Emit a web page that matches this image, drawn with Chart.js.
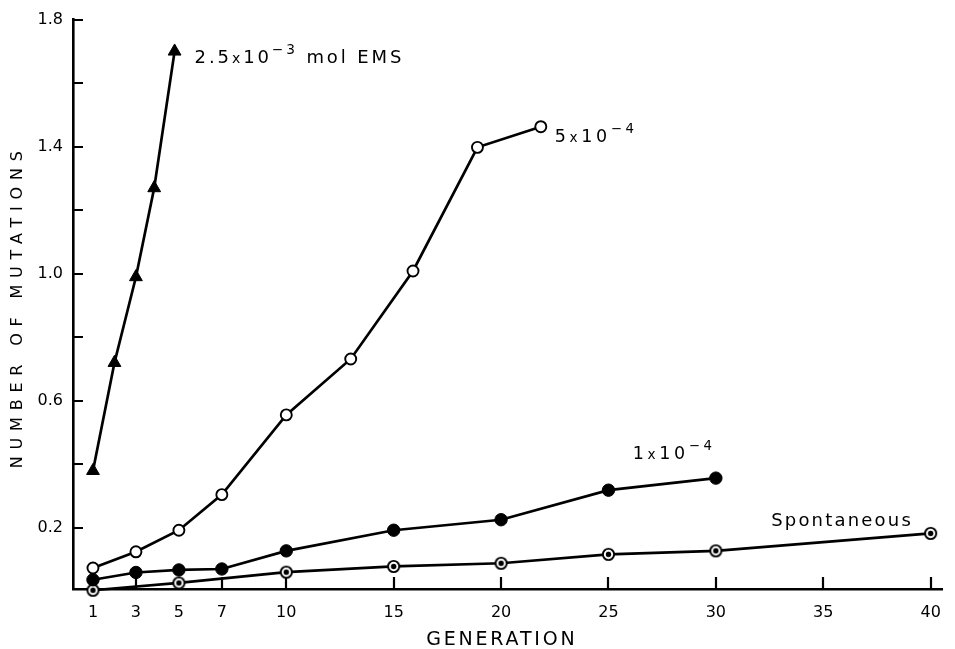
<!DOCTYPE html>
<html>
<head>
<meta charset="utf-8">
<script src="https://cdn.jsdelivr.net/npm/chart.js@4.4.1/dist/chart.umd.min.js"></script>
<style>
  html, body { margin: 0; padding: 0; background: #ffffff; }
  #wrap { width: 955px; height: 649px; position: relative; }
</style>
</head>
<body>
<div id="wrap"><canvas id="c" width="955" height="649"></canvas></div>
<script>
// ---------- data ----------
const genEMS25e3 = [1, 2, 3, 3.85, 4.8];
const mutEMS25e3 = [0.38, 0.72, 0.99, 1.27, 1.70];

const genEMS5e4 = [1, 3, 5, 7, 10, 13, 15.9, 18.9, 21.85];
const mutEMS5e4 = [0.074, 0.125, 0.193, 0.305, 0.556, 0.732, 1.009, 1.398, 1.463];

const genEMS1e4 = [1, 3, 5, 7, 10, 15, 20, 25, 30];
const mutEMS1e4 = [0.037, 0.060, 0.068, 0.071, 0.128, 0.193, 0.226, 0.319, 0.357];

const genSpont = [1, 5, 10, 15, 20, 25, 30, 40];
const mutSpont = [0.004, 0.027, 0.061, 0.079, 0.089, 0.117, 0.128, 0.183];

const xTicks = [1, 3, 5, 7, 10, 15, 20, 25, 30, 35, 40];
const xTickLabels = ['1', '3', '5', '7', '10', '15', '20', '25', '30', '35', '40'];
const yTicks = [0.2, 0.4, 0.6, 0.8, 1.0, 1.2, 1.4, 1.6, 1.8];
const yTickLabels = ['0.2', '', '0.6', '', '1.0', '', '1.4', '', '1.8'];

const xTitle = 'GENERATION';
const yTitle = 'NUMBER OF MUTATIONS';

// series labels (text pieces; "sup" = superscript)
const labelEMS25e3 = [{ t: '2.5' }, { t: 'x', small: true }, { t: '10' }, { t: '\u22123', sup: true }, { t: ' mol EMS' }];
const labelEMS5e4 = [{ t: '5' }, { t: 'x', small: true }, { t: '10' }, { t: '\u22124', sup: true }];
const labelEMS1e4 = [{ t: '1' }, { t: 'x', small: true }, { t: '10' }, { t: '\u22124', sup: true }];
const labelSpont = [{ t: 'Spontaneous' }];

// ---------- helpers ----------
const FONT = '"DejaVu Sans", "Liberation Sans", sans-serif';
const pts = (xs, ys) => xs.map((x, i) => ({ x: x, y: ys[i] }));

// dotted-circle marker for the spontaneous series
function makeDotCircle() {
  const c = document.createElement('canvas');
  c.width = 15; c.height = 15;
  const g = c.getContext('2d');
  g.beginPath(); g.arc(7.5, 7.5, 5.6, 0, Math.PI * 2);
  g.fillStyle = '#fff'; g.fill();
  g.lineWidth = 1.9; g.strokeStyle = '#000'; g.stroke();
  g.beginPath(); g.arc(7.5, 7.5, 2.7, 0, Math.PI * 2);
  g.fillStyle = '#000'; g.fill();
  return c;
}

function setSpacing(ctx, px) {
  if ('letterSpacing' in ctx) ctx.letterSpacing = px + 'px';
}

function drawParts(ctx, parts, x, y, size, spacing) {
  let cx = x;
  parts.forEach(p => {
    let s = size, dy = 0;
    if (p.sup) { s = size * 0.76; dy = -size * 0.5; }
    else if (p.small) { s = size * 0.78; }
    ctx.font = s + 'px ' + FONT;
    setSpacing(ctx, spacing);
    ctx.fillText(p.t, cx, y + dy);
    cx += ctx.measureText(p.t).width;
  });
}

// inward tick marks, drawn from the tick arrays through the scales
const inwardTicks = {
  id: 'inwardTicks',
  beforeDatasetsDraw(chart) {
    const { ctx, chartArea: a, scales: { x, y } } = chart;
    ctx.save();
    ctx.strokeStyle = '#000';
    ctx.lineWidth = 2.2;
    ctx.beginPath();
    xTicks.forEach(v => {
      const px = Math.round(x.getPixelForValue(v));
      ctx.moveTo(px, a.bottom);
      ctx.lineTo(px, a.bottom - 12);
    });
    yTicks.forEach(v => {
      const py = Math.round(y.getPixelForValue(v));
      ctx.moveTo(a.left, py);
      ctx.lineTo(a.left + 10, py);
    });
    ctx.stroke();
    ctx.restore();
  }
};

// axis titles and series labels
const textLayer = {
  id: 'textLayer',
  afterDraw(chart) {
    const { ctx, chartArea: a, scales: { x, y } } = chart;
    ctx.save();
    ctx.fillStyle = '#000';
    ctx.textBaseline = 'alphabetic';

    // x title
    ctx.font = '19px ' + FONT;
    setSpacing(ctx, 2.8);
    ctx.textAlign = 'center';
    ctx.fillText(xTitle, (a.left + a.right) / 2 - 6, 645);

    // y title
    ctx.save();
    ctx.translate(21.5, (a.top + a.bottom) / 2 + 2);
    ctx.rotate(-Math.PI / 2);
    ctx.font = '16px ' + FONT;
    setSpacing(ctx, 6.8);
    ctx.textAlign = 'center';
    ctx.fillText(yTitle, 0, 0);
    ctx.restore();

    // series labels anchored at each series' last point
    ctx.textAlign = 'left';
    const last = (xs, ys) => ({ px: x.getPixelForValue(xs[xs.length - 1]), py: y.getPixelForValue(ys[ys.length - 1]) });
    let p = last(genEMS25e3, mutEMS25e3);
    drawParts(ctx, labelEMS25e3, p.px + 20, p.py + 12, 18, 2.9);
    p = last(genEMS5e4, mutEMS5e4);
    drawParts(ctx, labelEMS5e4, p.px + 14, p.py + 15, 17.5, 3.6);
    p = last(genEMS1e4, mutEMS1e4);
    drawParts(ctx, labelEMS1e4, p.px - 83, p.py - 19, 17.5, 3.6);
    p = last(genSpont, mutSpont);
    drawParts(ctx, labelSpont, p.px - 159.5, p.py - 7, 18, 2.2);

    ctx.restore();
  }
};

const lineBase = {
  borderColor: '#000',
  borderWidth: 2.7,
  tension: 0,
  fill: false,
  clip: false,
  pointBorderColor: '#000'
};

new Chart(document.getElementById('c'), {
  type: 'line',
  data: {
    datasets: [
      Object.assign({}, lineBase, {
        label: '2.5x10^-3 mol EMS',
        data: pts(genEMS25e3, mutEMS25e3),
        pointStyle: 'triangle', pointRadius: 7.4, pointBorderWidth: 1,
        pointBackgroundColor: '#000'
      }),
      Object.assign({}, lineBase, {
        label: '5x10^-4',
        data: pts(genEMS5e4, mutEMS5e4),
        pointStyle: 'circle', pointRadius: 5.5, pointBorderWidth: 1.9,
        pointBackgroundColor: '#fff'
      }),
      Object.assign({}, lineBase, {
        label: '1x10^-4',
        data: pts(genEMS1e4, mutEMS1e4),
        pointStyle: 'circle', pointRadius: 6.2, pointBorderWidth: 1,
        pointBackgroundColor: '#000'
      }),
      Object.assign({}, lineBase, {
        label: 'Spontaneous',
        data: pts(genSpont, mutSpont),
        pointStyle: makeDotCircle(), pointRadius: 6
      })
    ]
  },
  options: {
    responsive: false,
    animation: false,
    devicePixelRatio: 1,
    layout: { padding: { left: 0, right: 12, top: 13, bottom: 0 } },
    plugins: { legend: { display: false }, tooltip: { enabled: false } },
    scales: {
      x: {
        type: 'linear',
        min: 0.07,
        max: 40.56,
        afterBuildTicks: s => { s.ticks = xTicks.map(v => ({ value: v })); },
        afterFit: s => { s.height = 60; },
        grid: { display: false, drawTicks: false },
        border: { display: true, color: '#000', width: 2.6 },
        ticks: {
          autoSkip: false, maxRotation: 0, padding: 14, color: '#000',
          font: { family: FONT, size: 16 },
          callback: v => { const i = xTicks.indexOf(v); return i >= 0 ? xTickLabels[i] : ''; }
        }
      },
      y: {
        type: 'linear',
        min: 0.008,
        max: 1.8,
        afterBuildTicks: s => { s.ticks = yTicks.map(v => ({ value: v })); },
        afterFit: s => { s.width = 73; },
        grid: { display: false, drawTicks: false },
        border: { display: true, color: '#000', width: 2.6 },
        ticks: {
          autoSkip: false, padding: 10, color: '#000',
          font: { family: FONT, size: 16 },
          callback: v => { const i = yTicks.findIndex(t => Math.abs(t - v) < 1e-9); return i >= 0 ? yTickLabels[i] : ''; }
        }
      }
    }
  },
  plugins: [inwardTicks, textLayer]
});
</script>
</body>
</html>
